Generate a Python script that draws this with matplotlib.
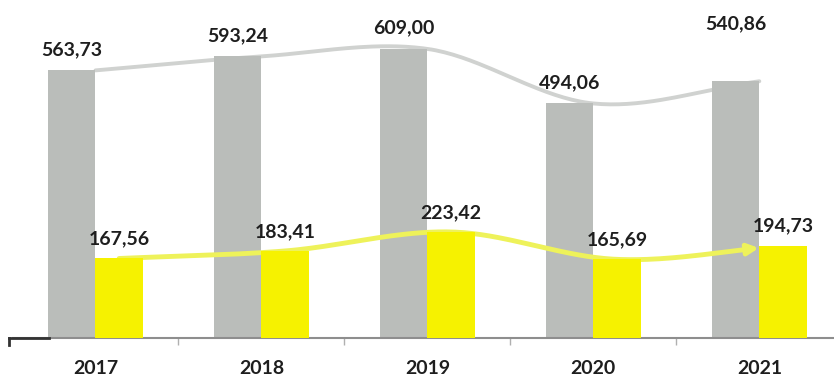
import numpy as np
import matplotlib
matplotlib.use("Agg")
import matplotlib.pyplot as plt

years = ["2017", "2018", "2019", "2020", "2021"]
gray_vals = [563.73, 593.24, 609.00, 494.06, 540.86]
yellow_vals = [167.56, 183.41, 223.42, 165.69, 194.73]

GRAY = "#babdba"
YELLOW = "#f6f200"
GRAY_LINE = "#d0d2d0"
YELLOW_LINE = "#eef25a"

plt.rcParams['font.family'] = ['Lato', 'DejaVu Sans']


def fmt(v):
    return f"{v:.2f}".replace(".", ",")


def catmull(xs, ys, n=40):
    xs = np.asarray(xs, float)
    ys = np.asarray(ys, float)
    P = np.column_stack([xs, ys])
    P = np.vstack([P[0] - (P[1] - P[0]), P, P[-1] + (P[-1] - P[-2])])
    out = []
    for k in range(1, len(P) - 2):
        p0, p1, p2, p3 = P[k - 1], P[k], P[k + 1], P[k + 2]
        t = np.linspace(0, 1, n)[:, None]
        seg = 0.5 * ((2 * p1) + (-p0 + p2) * t + (2 * p0 - 5 * p1 + 4 * p2 - p3) * t ** 2
                     + (-p0 + 3 * p1 - 3 * p2 + p3) * t ** 3)
        out.append(seg if k == 1 else seg[1:])
    out = np.vstack(out)
    return out[:, 0], out[:, 1]


fig = plt.figure(figsize=(8.34, 3.85), dpi=100)
ax = fig.add_axes([0.015, 0.122, 0.985, 0.878])

x = np.arange(len(years))
w = 0.285

ax.bar(x - w / 2, gray_vals, w, color=GRAY, zorder=2)
ax.bar(x + w / 2, yellow_vals, w, color=YELLOW, zorder=4)

# decorative trend curves
gx, gy = catmull(x, gray_vals)
ax.plot(gx, gy, color=GRAY_LINE, lw=2.8, zorder=1, solid_capstyle="round")

yx, yy = catmull(x + w / 2, yellow_vals)
mask = yx <= x[-1] + 0.02
yx, yy = yx[mask], yy[mask]
ax.plot(yx[:-3], yy[:-3], color=YELLOW_LINE, lw=3.5, zorder=3, solid_capstyle="round")
ax.annotate("", xy=(yx[-1], yy[-1]), xytext=(yx[-6], yy[-6]),
            arrowprops=dict(arrowstyle="-|>", color=YELLOW_LINE, lw=3.5,
                            mutation_scale=16), zorder=3)

gray_offsets = [9, 9, 9, 9, 35]
for i, v in enumerate(gray_vals):
    ax.annotate(fmt(v), (x[i] - w / 2, v), xytext=(0, gray_offsets[i]),
                textcoords="offset points", ha="center", va="bottom",
                fontsize=14, fontweight="bold", color="#1e1e1e", zorder=6)
for i, v in enumerate(yellow_vals):
    ax.annotate(fmt(v), (x[i] + w / 2, v), xytext=(0, 8),
                textcoords="offset points", ha="center", va="bottom",
                fontsize=14, fontweight="bold", color="#1e1e1e", zorder=6)

ax.set_xlim(-0.5, 4.45)
ax.set_ylim(0, 712)
ax.set_xticks(x)
ax.set_xticklabels(years, fontsize=14, fontweight="bold", color="#1e1e1e")
ax.tick_params(axis="x", which="major", length=0, pad=16)
ax.set_xticks(x[:-1] + 0.5, minor=True)
ax.tick_params(axis="x", which="minor", length=5, width=1, color="#b0b0b0")
ax.set_yticks([])
for s in ["top", "right", "left"]:
    ax.spines[s].set_visible(False)
ax.spines["bottom"].set_color("#8e8e8e")
ax.spines["bottom"].set_linewidth(1.5)
ax.plot([-0.004, 0.045], [0, 0], transform=ax.transAxes, color="#333333", lw=2, clip_on=False, zorder=7)
ax.plot([-0.004, -0.004], [0, -0.02], transform=ax.transAxes, color="#333333", lw=2, clip_on=False, zorder=7)

fig.savefig("out.png", dpi=100)
